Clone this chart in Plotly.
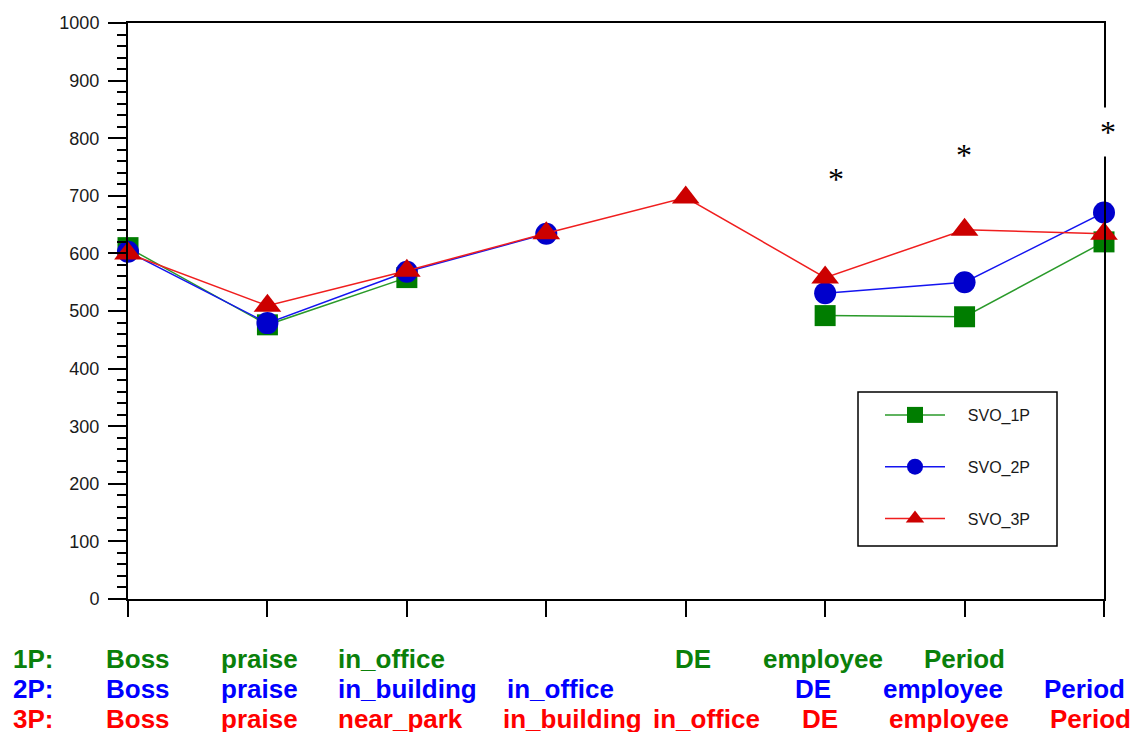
import plotly.graph_objects as go

# Condition index along the x axis (eight sentence positions)
positions = [0, 1, 2, 3, 4, 5, 6, 7]

# Mean values per condition; None where a condition has no word
svo_1p = [610, 476, 558, None, None, 492, 490, 620]
svo_2p = [603, 479, 568, 634, None, 531, 550, 671]
svo_3p = [600, 509, 570, 635, 697, 558, 641, 634]

series_names = ["SVO_1P", "SVO_2P", "SVO_3P"]
y_ticks = [0, 100, 200, 300, 400, 500, 600, 700, 800, 900, 1000]

# Word rows printed beneath the chart
row_prefixes = ["1P:", "2P:", "3P:"]
words_1p = ["Boss", "praise", "in_office", "DE", "employee", "Period"]
words_2p = ["Boss", "praise", "in_building", "in_office", "DE", "employee", "Period"]
words_3p = ["Boss", "praise", "near_park", "in_building", "in_office", "DE", "employee", "Period"]

# Significance markers: horizontal pixel position and height in data units
star_px = [836, 964, 1108]
star_y = [729, 771, 811]

W, H = 1135, 732
L, R, T, B = 128, 31, 23, 133
PW, PH = W - L - R, H - T - B


def px_x(px):
    return (px - L) / PW


def px_y(py):
    return (H - B - py) / PH


fig = go.Figure()

styles = [
    dict(symbol="square", size=21, mcolor="#007D00", lcolor="#2A9A2A"),
    dict(symbol="circle", size=22, mcolor="#0000CC", lcolor="#1414F0"),
    dict(symbol="triangle-up", size=24, mcolor="#CC0000", lcolor="#F01E1E"),
]
pad = "\u00a0" * 4
for name, vals, st in zip(series_names, [svo_1p, svo_2p, svo_3p], styles):
    fig.add_trace(go.Scatter(
        x=positions, y=vals, name=pad + name, legendgroup=name,
        mode="lines+markers", connectgaps=False, cliponaxis=False,
        line=dict(color=st["lcolor"], width=1.5),
        marker=dict(symbol=st["symbol"], size=st["size"], color=st["mcolor"],
                    line=dict(width=0)),
    ))

axis_font = dict(family="Liberation Sans, Arial, sans-serif", size=18, color="#1a1a1a")

fig.update_xaxes(
    range=[0, 7], tickvals=positions, showticklabels=False,
    ticks="outside", ticklen=16, tickwidth=2, tickcolor="black",
    showline=True, linewidth=2, linecolor="black", mirror=True,
    showgrid=False, zeroline=False,
)
fig.update_yaxes(
    range=[0, 1000], tickvals=y_ticks, tickfont=axis_font,
    ticks="outside", ticklen=18, tickwidth=2, tickcolor="black",
    ticklabelstandoff=5,
    minor=dict(dtick=20, ticks="outside", ticklen=9, tickwidth=2, tickcolor="black"),
    showline=True, linewidth=2, linecolor="black", mirror=True,
    showgrid=False, zeroline=False,
)

annotations = []
for spx, sy in zip(star_px, star_y):
    annotations.append(dict(
        x=px_x(spx), y=sy, xref="paper", yref="y", text="*", showarrow=False,
        font=dict(family="Liberation Serif, Times New Roman, serif", size=32, color="black"),
        bgcolor="white", borderpad=6, xanchor="center", yanchor="middle",
    ))

row_colors = ["#0A800A", "#0000FF", "#FF0000"]
row_y = [659, 689, 719]
word_left = [
    [104, 219, 336, 673, 761, 922],
    [104, 219, 336, 505, 793, 881, 1042],
    [104, 219, 336, 501, 651, 800, 887, 1048],
]
label_font = "Liberation Sans, Arial, sans-serif"
for prefix, words, lefts, color, ry in zip(row_prefixes, [words_1p, words_2p, words_3p],
                                          word_left, row_colors, row_y):
    items = [(prefix, 11)] + list(zip(words, lefts))
    for txt, lx in items:
        annotations.append(dict(
            x=px_x(lx), y=px_y(ry), xref="paper", yref="paper",
            text="<b>%s</b>" % txt, showarrow=False,
            xanchor="left", yanchor="middle",
            font=dict(family=label_font, size=26, color=color),
        ))

# Frame around the legend entries
shapes = [dict(
    type="rect", xref="paper", yref="paper",
    x0=px_x(858), x1=px_x(1057), y0=px_y(546), y1=px_y(392),
    line=dict(color="black", width=1.5), fillcolor="white", layer="below",
)]

fig.update_layout(
    width=W, height=H,
    margin=dict(l=L, r=R, t=T, b=B, pad=0),
    plot_bgcolor="white", paper_bgcolor="white",
    showlegend=True,
    legend=dict(
        x=px_x(880), y=px_y(398), xanchor="left", yanchor="top",
        bgcolor="rgba(0,0,0,0)", borderwidth=0,
        font=dict(family="Liberation Sans, Arial, sans-serif", size=16, color="#1a1a1a"),
        tracegroupgap=28, itemwidth=60, traceorder="grouped",
    ),
    shapes=shapes,
    annotations=annotations,
)

fig.write_html("out.html")
